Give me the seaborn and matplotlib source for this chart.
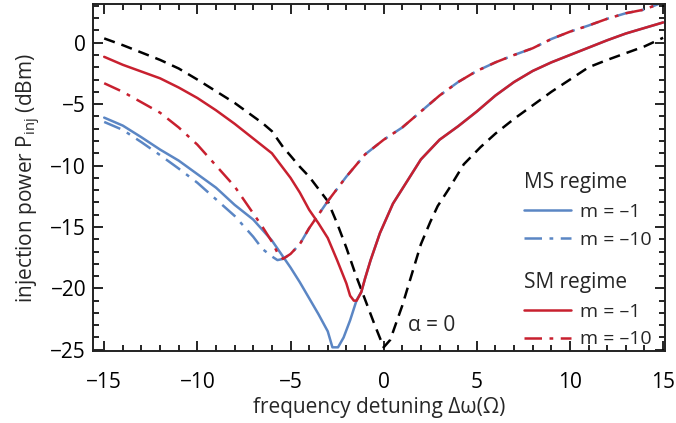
import numpy as np
import matplotlib
matplotlib.use("Agg")
import matplotlib.pyplot as plt
import pandas as pd
import seaborn as sns
from matplotlib.lines import Line2D
from matplotlib.ticker import MultipleLocator

sns.set_theme(style="ticks")
plt.rcParams.update({
    "font.family": ["Open Sans", "DejaVu Sans"],
    "mathtext.fontset": "custom", "mathtext.rm": "Open Sans",
    "mathtext.it": "Open Sans", "font.size": 15,
    "axes.linewidth": 1.4, "figure.facecolor": "white", "axes.facecolor": "white",
})

BLUE = "#5b86c4"
RED = "#c8202f"

# alpha = 0 reference (black dashed)
ref_x = [-15, -14, -13, -12, -11, -10, -9, -8, -7, -6.5, -6, -5.4, -5, -4.5, -4, -3.6, -3, -2.5,
         -2, -1.5, -1, -0.5, 0, 0.35, 1, 1.6, 2, 2.5, 2.9, 3.5, 4.3, 5.2, 6, 7, 8, 9, 10, 11, 12,
         13, 14, 15]
ref_y = [0.35, -0.2, -0.8, -1.4, -2.1, -3.0, -3.95, -4.9, -6.0, -6.55, -7.2, -8.5, -9.2, -10.1,
         -10.9, -11.7, -12.9, -14.7, -16.7, -18.9, -20.9, -22.9, -24.8, -24.2, -21.4, -18.4,
         -16.4, -14.6, -13.3, -11.9, -9.9, -8.5, -7.4, -6.2, -5.1, -4.0, -3.0, -2.0, -1.4,
         -0.85, -0.3, 0.4]

# SM regime, m = -1 (red solid)
sm1_x = [-15, -14, -13, -12, -11, -10, -9, -8, -7, -6, -5.5, -5, -4.5, -4, -3.5, -3, -2.5, -2,
         -1.8, -1.6, -1.45, -1.2, -1, -0.7, -0.2, 0.5, 1, 1.5, 2, 3, 4, 5, 6, 7, 8, 9, 10, 11,
         12, 13, 14, 15]
sm1_y = [-1.15, -1.8, -2.35, -2.9, -3.65, -4.5, -5.5, -6.6, -7.8, -9.0, -10.0, -11.0, -12.2,
         -13.6, -14.7, -15.9, -17.7, -19.6, -20.6, -21.0, -21.0, -20.3, -19.2, -17.7, -15.5,
         -13.1, -11.9, -10.7, -9.5, -7.9, -6.8, -5.6, -4.3, -3.2, -2.3, -1.6, -1.0, -0.4, 0.2,
         0.75, 1.2, 1.65]

# SM regime, m = -10 (red dash-dot)
sm10_x = [-15, -14, -13, -12, -11, -10, -9, -8, -7, -6.5, -6, -5.7, -5.4, -5, -4.5, -4, -3.5,
          -3, -2, -1, 0, 1, 2, 3, 4, 5, 6, 7, 8, 9, 10, 11, 12, 13, 14, 15]
sm10_y = [-3.3, -4.0, -4.85, -5.7, -6.9, -8.3, -10.0, -11.7, -13.9, -15.0, -16.2, -17.1,
          -17.6, -17.2, -16.4, -15.1, -14.0, -12.9, -10.9, -9.1, -7.9, -6.9, -5.6, -4.3, -3.2,
          -2.3, -1.6, -1.0, -0.45, 0.3, 0.9, 1.4, 1.95, 2.4, 2.7, 3.3]

# MS regime, m = -1 (blue solid), left branch; right branch runs under the red solid curve
ms1_x = [-15, -14, -13, -12, -11, -10, -9, -8, -7, -6, -5, -4.5, -4, -3.5, -3, -2.75, -2.45,
         -2.15, -1.8, -1.45]
ms1_y = [-6.1, -6.75, -7.7, -8.7, -9.6, -10.7, -11.8, -13.2, -14.4, -16.1, -18.3, -19.5,
         -20.8, -22.1, -23.5, -24.8, -24.8, -24.0, -22.6, -20.95]

# MS regime, m = -10 (blue dash-dot), left branch; right branch runs under the red dash-dot curve
ms10_x = [-15, -14, -13, -12, -11, -10, -9, -8, -7, -6.5, -6, -5.7]
ms10_y = [-6.45, -7.1, -8.1, -9.15, -10.25, -11.4, -12.75, -14.1, -15.8, -16.8, -17.4, -17.7]

DASHED = (0, (4.5, 2.8))
DASHDOT = (0, (7, 3, 1.5, 3))

fig = plt.figure(figsize=(6.76, 4.23), dpi=100)
ax = fig.add_axes([0.1376, 0.1702, 0.8461, 0.8203])

def draw(x, y, color, ls):
    df = pd.DataFrame({"x": x, "y": y})
    sns.lineplot(data=df, x="x", y="y", ax=ax, color=color, linestyle=ls,
                 linewidth=1.8, sort=False, estimator=None)

draw(ref_x, ref_y, "black", DASHED)
draw(ms1_x + [v for v in sm1_x if v > -1.45], ms1_y + [v for u, v in zip(sm1_x, sm1_y) if u > -1.45], BLUE, "-")
draw(ms10_x + [v for v in sm10_x if v > -5.7], ms10_y + [v for u, v in zip(sm10_x, sm10_y) if u > -5.7], BLUE, DASHDOT)
draw(sm10_x, sm10_y, RED, DASHDOT)
draw(sm1_x, sm1_y, RED, "-")

ax.text(1.3, -23.0, "α = 0", fontsize=15, va="center", ha="left")

ax.set_xlim(-15.6, 15.1)
ax.set_ylim(-25.1, 3.15)
ax.xaxis.set_major_locator(MultipleLocator(5))
ax.xaxis.set_minor_locator(MultipleLocator(1))
ax.yaxis.set_major_locator(MultipleLocator(5))
ax.yaxis.set_minor_locator(MultipleLocator(1))
ax.tick_params(which="both", direction="in", top=True, right=True, width=1.2, labelsize=15, colors="black")
ax.tick_params(which="major", length=7.5, pad=5)
ax.tick_params(which="minor", length=4.5)
ax.tick_params(axis="x", which="major", pad=15)
for s in ax.spines.values():
    s.set_color("#222222")

ax.set_xlabel("frequency detuning Δω(Ω)", fontsize=15, labelpad=3)
ax.set_ylabel(r"injection power P$_{\rm inj}$ (dBm)", fontsize=15, labelpad=5)

ms_handles = [Line2D([], [], color=BLUE, lw=1.8, ls="-"),
              Line2D([], [], color=BLUE, lw=1.8, ls=DASHDOT)]
sm_handles = [Line2D([], [], color=RED, lw=1.8, ls="-"),
              Line2D([], [], color=RED, lw=1.8, ls=DASHDOT)]
labels = ["m = –1", "m = –10"]
leg_kw = dict(loc="upper left", frameon=False, borderpad=0, borderaxespad=0,
              handlelength=2.4, handletextpad=0.5, labelspacing=0.5, fontsize=14,
              title_fontsize=15, alignment="left")
leg1 = ax.legend(ms_handles, labels, title="MS regime", bbox_to_anchor=(0.7535, 0.515), **leg_kw)
ax.add_artist(leg1)
ax.legend(sm_handles, labels, title="SM regime", bbox_to_anchor=(0.7535, 0.228), **leg_kw)

fig.savefig("out.png", dpi=100)
